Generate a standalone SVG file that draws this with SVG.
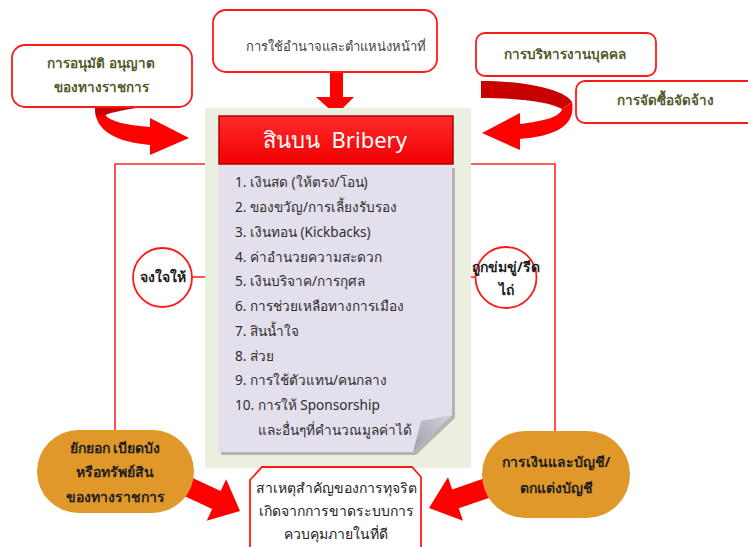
<svg xmlns="http://www.w3.org/2000/svg" width="748" height="547" viewBox="0 0 748 547">
<defs>
<style>
.box{fill:#fff;stroke:#ff1a1a;stroke-width:1.8}
.ln{fill:none;stroke:#ff2a2a;stroke-width:1.6}
.t{font-family:"Noto Sans","Liberation Sans",sans-serif;text-anchor:middle}
.ol{fill:#555a2c;font-size:13.5px;font-weight:bold}
.gr{fill:#444;font-size:13px}
.li{font-family:"Noto Sans","Liberation Sans",sans-serif;fill:#2e2e2e;font-size:13.6px}
.bd{fill:#1e1e1e;font-size:14px;font-weight:bold}
.or{fill:#e0982b}
.big{fill:#ff0000}
</style>
<marker id="ah" viewBox="0 0 10 10" refX="9" refY="5" markerWidth="6" markerHeight="6" orient="auto">
<path d="M0 1 L10 5 L0 9 Z" fill="#ff2a2a"/>
</marker>
<linearGradient id="hd" x1="0" y1="0" x2="0" y2="1">
<stop offset="0" stop-color="#ff2b2b"/>
<stop offset="1" stop-color="#f00000"/>
</linearGradient>
<linearGradient id="fold" x1="1" y1="0" x2="0" y2="1">
<stop offset="0" stop-color="#d4d0dc"/>
<stop offset="1" stop-color="#a19dab"/>
</linearGradient>
</defs>

<g id="connectors">
<path class="ln" d="M205 164 L115 164 L115 430"/>
<path class="ln" d="M471 164 L555 164 L555 431"/>
<line class="ln" x1="192" y1="277" x2="215" y2="277" marker-end="url(#ah)"/>
<line class="ln" x1="475" y1="277" x2="454" y2="277" marker-end="url(#ah)"/>
<path class="big" d="M330 71 L343 71 L343 97 L354 97 L336 115 L316 97 L330 97 Z"/>
<path class="big" d="M95 107 C94 132 118 142 150 145 L150 155 L189 138 L150 118 L150 127 C128 125 108 122 104 113 Z"/>
<path fill="#c80000" d="M95 107 L143 107 C125 110 110 112 104 116 L96 117 Z"/>
<path fill="#c80000" d="M481 81 C528 81 565 90 572 102 L562 109 C550 102 520 98 481 98 Z"/>
<path class="big" d="M562 109 L572 102 C576 126 556 136 520 139 L520 150 L482 133 L520 113 L520 124 C544 121 560 117 562 109 Z"/>
<path class="big" transform="translate(240 511) rotate(25)" d="M-64 -10 L-26 -10 L-26 -23 L0 0 L-26 23 L-26 10 L-64 10 Z"/>
<path class="big" transform="translate(429 508) rotate(161)" d="M-66 -10 L-28 -10 L-28 -23 L0 0 L-28 23 L-28 10 L-66 10 Z"/>
</g>

<g id="top-power">
<rect class="box" x="213" y="10" width="224" height="62" rx="13"/>
<text class="t gr" x="336" y="51">การใช้อำนาจและตำแหน่งหน้าที่</text>
</g>

<g id="approval">
<rect class="box" x="12" y="45" width="180" height="62" rx="13"/>
<text class="t ol" x="101" y="68">การอนุมัติ อนุญาต</text>
<text class="t ol" x="101" y="92">ของทางราชการ</text>
</g>

<g id="personnel">
<rect class="box" x="476" y="33" width="180" height="43" rx="9"/>
<text class="t ol" x="565" y="59">การบริหารงานบุคคล</text>
</g>

<g id="procurement">
<rect class="box" x="576" y="81" width="185" height="42" rx="9"/>
<text class="t ol" x="665" y="105">การจัดซื้อจัดจ้าง</text>
</g>

<g id="bribery">
<rect x="205" y="108" width="266" height="360" fill="#ebefdf"/>
<path d="M221 168 L455 168 L455 418 L416 455 L221 455 Z" fill="#9c9c9c" opacity="0.7"/>
<path d="M218 165 L452 165 L452 415 L413 452 L218 452 Z" fill="#e3dfec"/>
<path d="M452 415 L421 421 L413 452 Z" fill="url(#fold)"/>
<rect x="219" y="116" width="234" height="48" fill="url(#hd)" stroke="#b00000" stroke-width="1.5"/>
<text class="t" x="335" y="148" fill="#fff" font-size="22px" xml:space="preserve" style="white-space:pre">สินบน  Bribery</text>
<text class="li" x="235" y="187">1. เงินสด (ให้ตรง/โอน)</text>
<text class="li" x="235" y="212">2. ของขวัญ/การเลี้ยงรับรอง</text>
<text class="li" x="235" y="237">3. เงินทอน (Kickbacks)</text>
<text class="li" x="235" y="262">4. ค่าอำนวยความสะดวก</text>
<text class="li" x="235" y="286">5. เงินบริจาค/การกุศล</text>
<text class="li" x="235" y="311">6. การช่วยเหลือทางการเมือง</text>
<text class="li" x="235" y="336">7. สินน้ำใจ</text>
<text class="li" x="235" y="361">8. ส่วย</text>
<text class="li" x="235" y="385">9. การใช้ตัวแทน/คนกลาง</text>
<text class="li" x="235" y="410">10. การให้ Sponsorship</text>
<text class="li" x="258" y="435">และอื่นๆที่คำนวณมูลค่าได้</text>
</g>

<g id="intent">
<circle cx="162.5" cy="277.5" r="29.5" fill="#fff" stroke="#ff1a1a" stroke-width="1.8"/>
<text class="t bd" x="162.5" y="282" font-size="13px">จงใจให้</text>
</g>

<g id="extortion">
<circle cx="506" cy="277.5" r="30.5" fill="#fff" stroke="#ff1a1a" stroke-width="1.8"/>
<text class="t bd" x="506" y="272" font-size="13px">ถูกข่มขู่/รีด</text>
<text class="t bd" x="506" y="295" font-size="13px">ไถ่</text>
</g>

<g id="embezzle">
<rect class="or" x="37" y="430" width="157" height="83" rx="41.5"/>
<text class="t bd" x="115" y="453">ยักยอก เบียดบัง</text>
<text class="t bd" x="115" y="477">หรือทรัพย์สิน</text>
<text class="t bd" x="115" y="502">ของทางราชการ</text>
</g>

<g id="finance">
<rect class="or" x="482" y="431" width="148" height="87" rx="43.5"/>
<text class="t bd" x="556" y="467">การเงินและบัญชี/</text>
<text class="t bd" x="556" y="493">ตกแต่งบัญชี</text>
</g>

<g id="cause">
<path d="M262 467 L412 467 L421 477 L421 560 L250 560 L250 480 Z" fill="#fff" stroke="#ff1a1a" stroke-width="1.8"/>
<text class="t" x="336" y="493" fill="#222" font-size="14px">สาเหตุสำคัญของการทุจริต</text>
<text class="t" x="336" y="516" fill="#222" font-size="14px">เกิดจากการขาดระบบการ</text>
<text class="t" x="336" y="539" fill="#222" font-size="14px">ควบคุมภายในที่ดี</text>
</g>
</svg>
